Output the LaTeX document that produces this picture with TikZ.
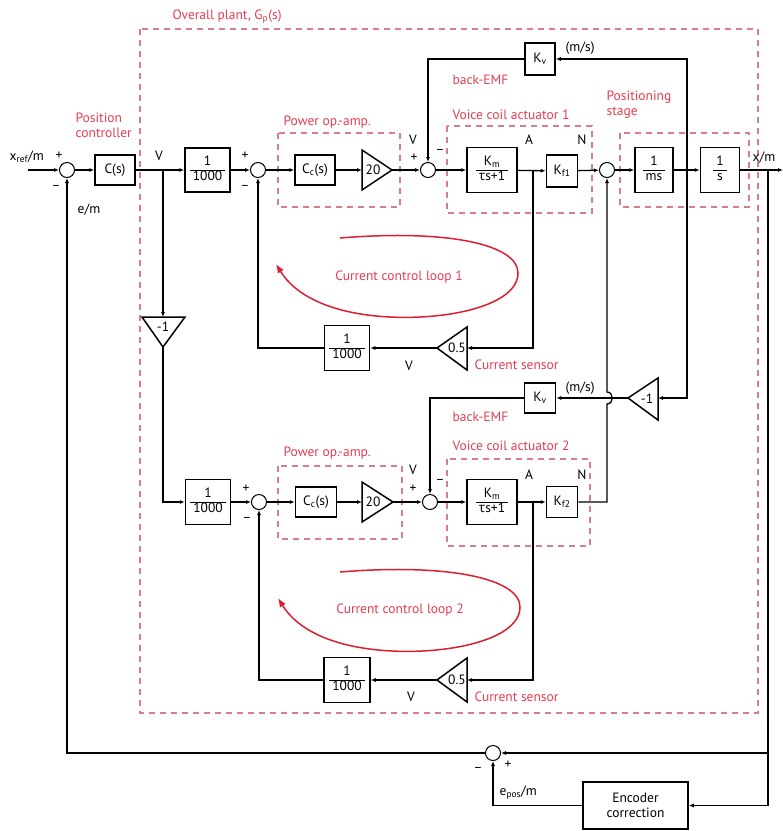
\documentclass[tikz,border=0pt]{standalone}
\usepackage{fontspec}
\setmainfont{PT Sans}
\newfontfamily\grk{Open Sans}
\usetikzlibrary{arrows.meta}
\definecolor{lab}{RGB}{228,60,80}
\definecolor{dsh}{RGB}{215,125,140}
\definecolor{lp}{RGB}{220,30,50}
\newcommand{\fr}[2]{\begin{tabular}{@{\hspace{3pt}}c@{\hspace{3pt}}}#1\\\hline #2\end{tabular}}
\newcommand{\sbs}[1]{\textsubscript{#1}}
\begin{document}
\begin{tikzpicture}[x=1pt,y=-1pt, line width=1.3pt,
  >={Latex[length=5pt,width=4pt]},
  every node/.style={font=\fontsize{13.5}{15}\selectfont},
  blk/.style={draw,line width=1.5pt,inner sep=0pt,fill=white},
  sumn/.style={circle,draw,line width=1pt,minimum size=15pt,inner sep=0pt,fill=white},
  tri/.style={draw,line width=1.5pt,fill=white,line join=miter},
  dbox/.style={draw=dsh,dash pattern=on 6pt off 5pt,line width=1.1pt},
  lbl/.style={text=lab,anchor=west,inner sep=0pt},
  sig/.style={inner sep=0pt},
  loopar/.style={draw=lp,line width=1.5pt,-{Latex[length=9pt,width=7pt]}}]
\useasboundingbox (0,0) rectangle (783,831);

% ---------- dashed groups ----------
\draw[dbox] (140,29) rectangle (758,713);
\draw[dbox] (278,133) rectangle (400,207);
\draw[dbox] (447,126) rectangle (592,213);
\draw[dbox] (620,133) rectangle (749,207);
\draw[dbox] (278,466) rectangle (402,539);
\draw[dbox] (447,459) rectangle (590,546);

% ---------- red labels ----------
\node[lbl] (lplant) at (172,17) {Overall plant, G\sbs{p}(s)};
\node[lbl,align=left,anchor=north west] (lpc) at (75,112) {Position\\controller};
\node[lbl] (lpa1) at (283,122) {Power op.-amp.};
\node[lbl] (lbe1) at (452,80) {back-EMF};
\node[lbl] (lvc1) at (452,115) {Voice coil actuator 1};
\node[lbl,align=left,anchor=north west] (lps) at (606,90) {Positioning\\stage};
\node[lbl,anchor=center] (lcl1) at (399,277) {Current control loop 1};
\node[lbl] (lcs1) at (474,365) {Current sensor};
\node[lbl] (lbe2) at (452,417) {back-EMF};
\node[lbl] (lvc2) at (452,446) {Voice coil actuator 2};
\node[lbl] (lpa2) at (283,453) {Power op.-amp.};
\node[lbl,anchor=center] (lcl2) at (400,610) {Current control loop 2};
\node[lbl] (lcs2) at (474,697) {Current sensor};

% ---------- top row ----------
\coordinate (xin) at (28,170);
\node[sumn] (s1) at (67,170) {};
\node[blk,minimum width=40pt,minimum height=30pt] (cs) at (115,170) {C(s)};
\coordinate (vb) at (163,170);
\node[blk,minimum width=45pt,minimum height=44pt] (b1) at (207.5,170) {\fr{1}{1000}};
\node[sumn] (s2) at (258,170) {};
\node[blk,minimum width=40pt,minimum height=30pt] (cc) at (315,170) {C\sbs{c}(s)};
\draw[tri] (362,150) -- (392,170) -- (362,190) -- cycle;
\coordinate (t20i) at (362,170); \coordinate (t20o) at (392,170);
\node[sig] (g20) at (373,170) {20};
\node[sumn] (s3) at (428,170) {};
\node[blk,minimum width=50pt,minimum height=45pt] (km) at (492,170) {\fr{K\sbs{m}}{{\grk τ}s+1}};
\coordinate (a1) at (533,170);
\node[blk,minimum width=31pt,minimum height=32pt] (kf1) at (562,171) {K\sbs{f1}};
\node[sumn] (s4) at (607,170) {};
\node[blk,minimum width=38pt,minimum height=45pt] (ms) at (654,170) {\fr{1}{ms}};
\coordinate (vel) at (687,170);
\node[blk,minimum width=39pt,minimum height=45pt] (si) at (720,170) {\fr{1}{s}};
\coordinate (xd) at (768,170);
\coordinate (xout) at (783,170);
\node[blk,minimum width=30pt,minimum height=32pt] (kv) at (540,59) {K\sbs{v}};

% current sensor loop 1
\draw[tri] (467,327) -- (437,348) -- (467,370) -- cycle;
\coordinate (t05i) at (467,348); \coordinate (t05o) at (437,348);
\node[sig] (g05) at (457,348) {0.5};
\node[blk,minimum width=45pt,minimum height=45pt] (b2) at (347,348) {\fr{1}{1000}};

% -1 left
\draw[tri] (142,317) -- (185,317) -- (163,347) -- cycle;
\coordinate (tn1i) at (163,317); \coordinate (tn1o) at (163,347);
\node[sig] (gn1) at (163,327) {-1};

% ---------- bottom row ----------
\node[blk,minimum width=45pt,minimum height=45pt] (b3) at (208,502) {\fr{1}{1000}};
\node[sumn] (s2b) at (259,502) {};
\node[blk,minimum width=41pt,minimum height=30pt] (ccb) at (316,502) {C\sbs{c}(s)};
\draw[tri] (362,482) -- (393,502) -- (362,522) -- cycle;
\coordinate (t20bi) at (362,502); \coordinate (t20bo) at (393,502);
\node[sig] (g20b) at (373,502) {20};
\node[sumn] (s3b) at (430,502) {};
\node[blk,minimum width=50pt,minimum height=45pt] (km2) at (492,502) {\fr{K\sbs{m}}{{\grk τ}s+1}};
\coordinate (a2) at (533,502);
\node[blk,minimum width=31pt,minimum height=31pt] (kf2) at (562,502) {K\sbs{f2}};
\coordinate (kf2r) at (607,502);
\node[blk,minimum width=31pt,minimum height=30pt] (kv2) at (540,398) {K\sbs{v}};
\draw[tri] (658,378) -- (628,398) -- (658,420) -- cycle;
\coordinate (tnRi) at (658,398); \coordinate (tnRo) at (628,398);
\node[sig] (gnR) at (647,399) {-1};

\draw[tri] (467,658) -- (437,680) -- (467,702) -- cycle;
\coordinate (t05bi) at (467,680); \coordinate (t05bo) at (437,680);
\node[sig] (g05b) at (457,680) {0.5};
\node[blk,minimum width=46pt,minimum height=45pt] (b4) at (347,680) {\fr{1}{1000}};

% ---------- encoder ----------
\node[sumn] (s5) at (493,753) {};
\coordinate (j5) at (768,753);
\node[blk,minimum width=105pt,minimum height=47pt,align=center] (enc) at (635.5,805.5) {Encoder\\correction};

% ---------- connectors ----------
\draw[->] (xin) -- (s1);
\draw[->] (s1) -- (cs);
\draw[->] (cs) -- (b1);
\draw[->] (b1) -- (s2);
\draw[->] (s2) -- (cc);
\draw[->] (cc) -- (t20i);
\draw[->] (t20o) -- (s3);
\draw[->] (s3) -- (km);
\draw[->] (km) -- (kf1);
\draw[->] (kf1) -- (s4);
\draw[->] (s4) -- (ms);
\draw[->] (ms) -- (si);
\draw[->] (si) -- (xout);
\draw[->] (vel) |- (kv);
\draw[->] (kv) -| (s3);
\draw[->] (a1) |- (t05i);
\draw[->] (t05o) -- (b2);
\draw[->] (b2) -| (s2);
\draw[->] (vb) -- (tn1i);
\draw[->] (tn1o) |- (b3);

\draw[->] (b3) -- (s2b);
\draw[->] (s2b) -- (ccb);
\draw[->] (ccb) -- (t20bi);
\draw[->] (t20bo) -- (s3b);
\draw[->] (s3b) -- (km2);
\draw[->] (km2) -- (kf2);
\draw[->] (a2) |- (t05bi);
\draw[->] (t05bo) -- (b4);
\draw[->] (b4) -| (s2b);
\draw[->] (vel) |- (tnRi);
\draw[->] (tnRo) -- (kv2);
\draw[->] (kv2) -| (s3b);
\draw[->] (kf2) -- (kf2r) -- (607,404) .. controls (614,404) and (614,392) .. (607,392) -- (s4);

\draw (xd) -- (j5);
\draw[->] (j5) |- (enc);
\draw[->] (j5) -- (s5);
\draw[->] (enc) -| (s5);
\draw[->] (s5) -| (s1);

% ---------- signal labels ----------
\node[sig,anchor=west] (lxr) at (9,157) {x\sbs{ref}/m};
\node[sig] (p1) at (59,156) {+};
\node[sig] (m1) at (56,188) {\textminus};
\node[sig,anchor=west] (lem) at (77,210) {e/m};
\node[sig] (lv0) at (159,156) {V};
\node[sig] (p2) at (245,156) {+};
\node[sig] (m2) at (245,188) {\textminus};
\node[sig] (lv1) at (413,140) {V};
\node[sig] (p3) at (414,158) {+};
\node[sig] (m3) at (440,152) {\textminus};
\node[sig] (la1) at (529,140) {A};
\node[sig] (ln1) at (582,140) {N};
\node[sig,anchor=west] (lms1) at (565,48) {(m/s)};
\node[sig] (lv2) at (409,366) {V};
\node[sig,anchor=west] (lxo) at (752,158) {x/m};

\node[sig] (p2b) at (246,489) {+};
\node[sig] (m2b) at (247,520) {\textminus};
\node[sig] (lv3) at (413,470) {V};
\node[sig] (p3b) at (413,489) {+};
\node[sig] (m3b) at (440,482) {\textminus};
\node[sig] (la2) at (529,475) {A};
\node[sig] (ln2) at (582,475) {N};
\node[sig,anchor=west] (lms2) at (565,388) {(m/s)};
\node[sig] (lv4) at (411,697) {V};

\node[sig] (m5) at (478,770) {\textminus};
\node[sig] (p5) at (508,765) {+};
\node[sig,anchor=west] (lep) at (499,793) {e\sbs{pos}/m};

% ---------- loops ----------
\draw[loopar] (340,238) .. controls (450,229) and (518,245) .. (518,273)
  .. controls (518,305) and (450,320) .. (390,317)
  .. controls (330,314) and (295,295) .. (276,264);
\draw[loopar] (340,572) .. controls (450,563) and (520,579) .. (520,607)
  .. controls (520,639) and (452,654) .. (392,651)
  .. controls (332,648) and (297,629) .. (278,598);
\end{tikzpicture}
\end{document}
